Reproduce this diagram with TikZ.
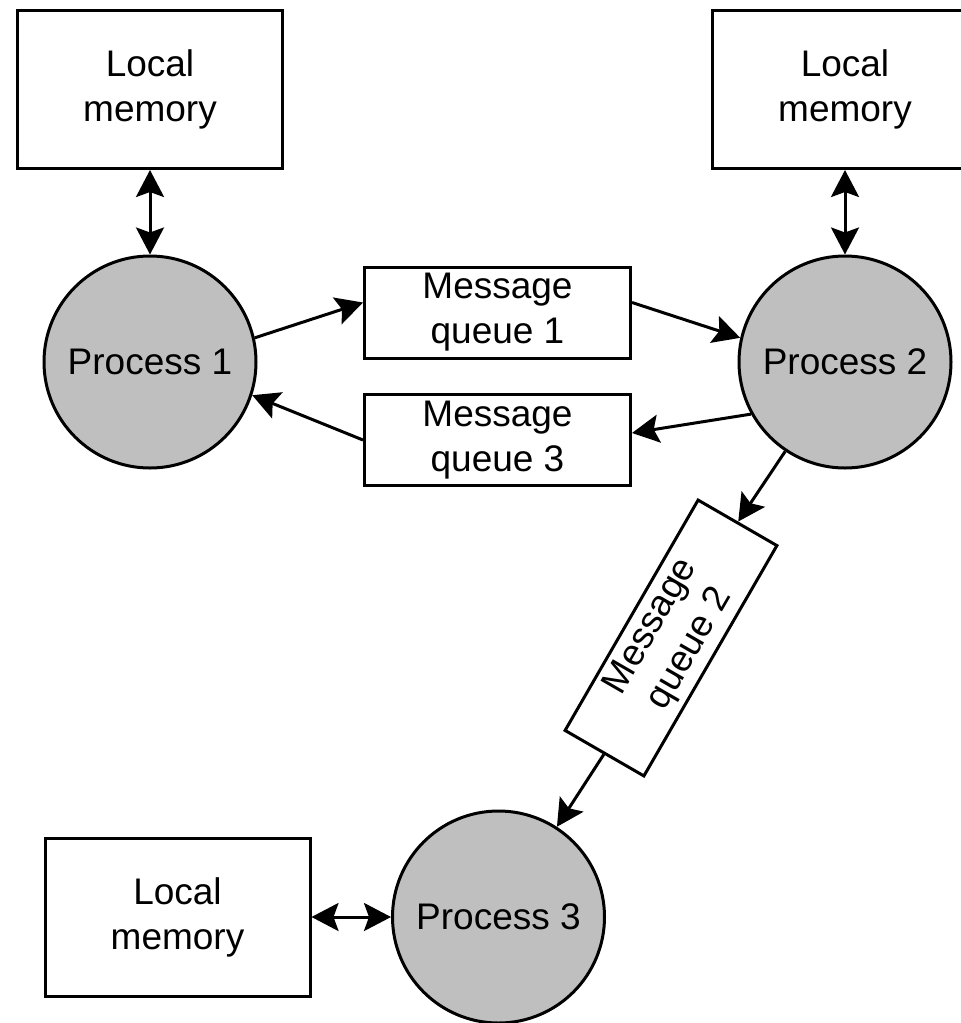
\documentclass[tikz,border=0pt]{standalone}
\usepackage{fontspec}
\setmainfont{Liberation Sans}
\usetikzlibrary{arrows.meta}

\begin{document}
\begin{tikzpicture}[x=1pt,y=-1pt,
    every node/.style={font=\fontsize{37}{45}\selectfont, align=center},
    memory/.style={draw, line width=3pt, minimum width=265pt, minimum height=158pt},
    queue/.style={draw, line width=3pt, minimum width=266pt, minimum height=91pt},
    process/.style={circle, draw, line width=3pt, fill=gray!50, minimum size=212pt},
    link/.style={line width=3pt, -{Stealth[length=27pt,width=28pt,inset=5pt]}},
    twoway/.style={line width=3pt, {Stealth[length=27pt,width=28pt,inset=5pt]}-{Stealth[length=27pt,width=28pt,inset=5pt]}}]
    \useasboundingbox (0,0) rectangle (961,1023);
    \clip (0,0) rectangle (961,1023);
    \node[memory] (lmA) at (150,89.5) {Local\\memory};
    \node[memory] (lmB) at (845,89.5) {Local\\memory};
    \node[memory] (lmC) at (177.5,917) {Local\\memory};
    \node[process] (pA) at (150,362) {Process 1};
    \node[process] (pB) at (845,362) {Process 2};
    \node[process] (pC) at (498.5,917) {Process 3};
    \node[queue] (qA) at (497.5,312.5) {Message\\queue 1};
    \node[queue] (qC) at (497.5,440) {Message\\queue 3};
    \node[queue, rotate=60] (qB) at (671,638) {Message\\queue 2};
    \draw[twoway] (lmA.south) -- (pA.north);
    \draw[twoway] (lmB.south) -- (pB.north);
    \draw[twoway] (lmC.east) -- (pC.west);
    \draw[link] (pA.13) -- ([yshift=10pt]qA.west);
    \draw[link] ([yshift=10pt]qA.east) -- (pB.167);
    \draw[link] (pB.209) -- ([yshift=7pt]qC.east);
    \draw[link] (qC.west) -- (pA.-18);
    \draw[link] (pB) -- (qB.east);
    \draw[link] (qB.west) -- (pC);
\end{tikzpicture}
\end{document}
